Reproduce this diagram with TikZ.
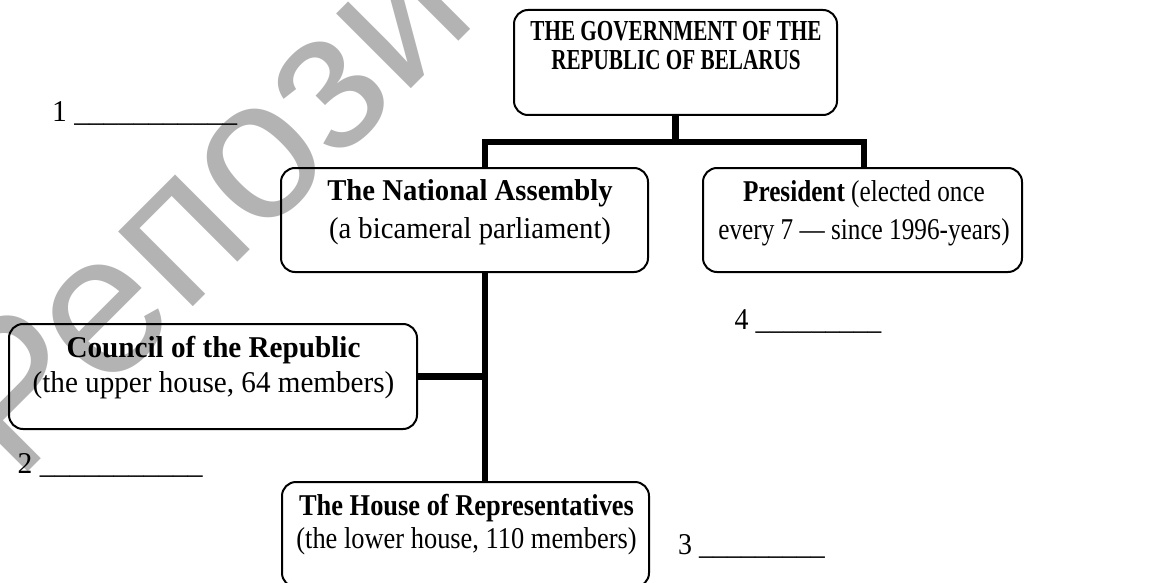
\documentclass[tikz,border=0pt]{standalone}
\usepackage{fontspec}
\setmainfont{Liberation Serif}
\newfontfamily\wmfont{Liberation Sans}
\newfontfamily\fT{Liberation Serif}[FakeStretch=0.73]
\newfontfamily\fNA{Liberation Serif}[FakeStretch=0.95]
\newfontfamily\fPR{Liberation Serif}[FakeStretch=0.835]
\newfontfamily\fCO{Liberation Serif}[FakeStretch=0.965]
\newfontfamily\fHO{Liberation Serif}[FakeStretch=0.875]
\newfontfamily\fLa{Liberation Serif}[FakeStretch=0.98]
\newfontfamily\fLb{Liberation Serif}[FakeStretch=0.925]
\definecolor{wmgray}{HTML}{B3B3B3}
\begin{document}
\begin{tikzpicture}[x=1pt,y=-1pt,
  box/.style={draw, line width=2pt, rounded corners=14pt, inner sep=0pt},
  conn/.style={line width=6.5pt, line join=miter},
  txt/.style={anchor=base, inner sep=0pt},
  lbl/.style={anchor=base west, inner sep=0pt}]
\useasboundingbox (0,0) rectangle (1159,583);
\fill[white] (0,0) rectangle (1159,583);
% watermark
\begin{scope}
\clip (0,0) rectangle (1159,583);
\node[anchor=base west, rotate=45, inner sep=0pt, text=wmgray,
  font=\wmfont\fontsize{200}{200}\selectfont] (wm) at (16,484) {Репозиторий};
\end{scope}
% boxes
\node[box, minimum width=323pt, minimum height=105pt] (gov) at (675.5,62.5) {};
\node[box, minimum width=367pt, minimum height=104pt] (na) at (464.5,220) {};
\node[box, minimum width=319pt, minimum height=104pt] (pr) at (862.5,220) {};
\node[box, minimum width=408pt, minimum height=105pt] (co) at (213,376.5) {};
\node[box, minimum width=367pt, minimum height=105pt] (ho) at (465.5,534.5) {};
% texts
\node[txt] (govt) at (676,41) {\fT\fontsize{29}{29}\selectfont\bfseries
  \begin{tabular}[t]{@{}c@{}}THE GOVERNMENT OF THE\\REPUBLIC OF BELARUS\end{tabular}};
\node[txt] (nat) at (470,200) {\fNA\fontsize{30.2}{38}\selectfont
  \begin{tabular}[t]{@{}c@{}}\textbf{The National Assembly}\\(a bicameral parliament)\end{tabular}};
\node[txt] (prt) at (864,201) {\fPR\fontsize{30.2}{38}\selectfont
  \begin{tabular}[t]{@{}c@{}}\textbf{President} (elected once\\every 7 — since 1996-years)\end{tabular}};
\node[txt] (cot) at (213.5,357) {\fCO\fontsize{30.2}{35}\selectfont
  \begin{tabular}[t]{@{}c@{}}\textbf{Council of the Republic}\\(the upper house, 64 members)\end{tabular}};
\node[txt] (hot) at (466.5,515) {\fHO\fontsize{30.2}{33}\selectfont
  \begin{tabular}[t]{@{}c@{}}\textbf{The House of Representatives}\\(the lower house, 110 members)\end{tabular}};
% blanks
\node[lbl] (l1) at (52,122) {\fLa\fontsize{30.2}{36}\selectfont 1 \_\_\_\_\_\_\_\_\_\_\_};
\node[lbl] (l2) at (17.5,473) {\fLa\fontsize{30.2}{36}\selectfont 2 \_\_\_\_\_\_\_\_\_\_\_};
\node[lbl] (l3) at (678,554) {\fLb\fontsize{30.2}{36}\selectfont 3 \_\_\_\_\_\_\_\_\_};
\node[lbl] (l4) at (734.5,329) {\fLb\fontsize{30.2}{36}\selectfont 4 \_\_\_\_\_\_\_\_\_};
% connectors
\coordinate (spine) at ([xshift=20.5pt]na.south);
\draw[conn] (gov.south) -- ++(0,28);
\draw[conn] ([xshift=20.5pt]na.north) -- ++(0,-25) -| ([xshift=1.5pt]pr.north);
\draw[conn] (spine) -- (ho.north -| spine);
\draw[conn] (co.east) -- (co.east -| spine);
\end{tikzpicture}
\end{document}
